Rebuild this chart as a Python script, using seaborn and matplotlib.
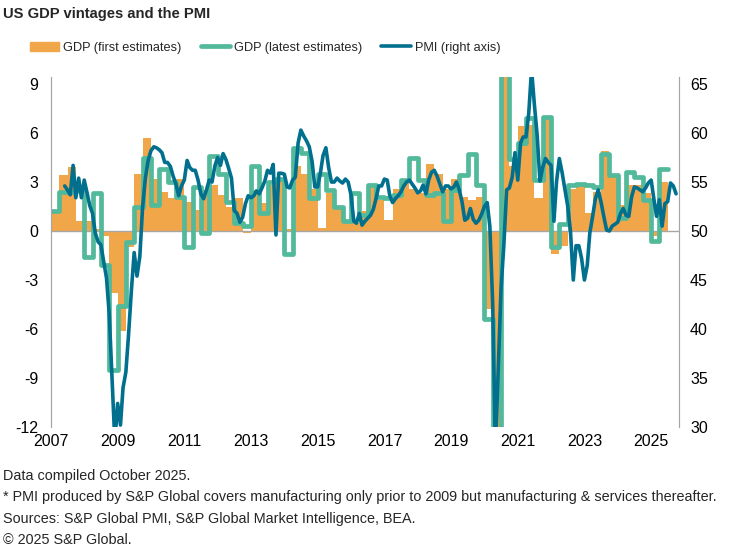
import numpy as np
import pandas as pd
import matplotlib
matplotlib.use("Agg")
import matplotlib.pyplot as plt
from matplotlib.patches import Patch
from matplotlib.lines import Line2D
import matplotlib.dates as mdates
import seaborn as sns

# Quarterly GDP, % q/q annualised, 2007Q1 - 2025Q2
quarters = pd.period_range("2007Q1", "2025Q2", freq="Q")
gdp_first = [1.3, 3.4, 3.9, 0.6,
             0.6, 0.1, -0.3, -3.8,
             -6.1, -1.0, 3.5, 5.7,
             3.2, 2.4, 2.0, 3.2,
             1.8, 1.3, 2.5, 2.8,
             2.2, 1.5, 2.0, -0.1,
             2.5, 1.7, 2.8, 3.2,
             0.1, 4.0, 3.5, 2.6,
             0.2, 2.3, 1.5, 0.7,
             0.5, 1.2, 2.9, 1.9,
             0.7, 2.6, 3.0, 2.6,
             2.3, 4.1, 3.5, 2.6,
             3.2, 2.1, 1.9, 2.1,
             -4.8, -32.9, 33.1, 4.0,
             6.4, 6.5, 2.0, 6.9,
             -1.4, -0.9, 2.6, 2.9,
             1.1, 2.4, 4.9, 3.3,
             1.6, 2.8, 2.8, 2.3,
             -0.3, 3.0]
gdp_latest = [1.2, 2.4, 2.4, 2.5,
              -1.6, 2.3, -2.1, -8.5,
              -4.6, -0.7, 1.5, 4.5,
              1.6, 3.8, 3.0, 2.1,
              -1.0, 2.7, -0.1, 4.6,
              3.5, 1.8, 0.5, 0.3,
              4.0, 1.1, 3.0, 3.2,
              -1.4, 5.1, 4.8, 2.0,
              3.5, 2.5, 1.5, 0.6,
              2.3, 1.0, 2.8, 2.1,
              2.0, 2.2, 3.1, 4.5,
              3.1, 2.2, 2.3, 0.6,
              2.5, 3.4, 4.7, 2.8,
              -5.4, -28.0, 34.8, 4.4,
              5.4, 6.9, 3.1, 7.0,
              -1.0, 0.4, 2.8, 2.9,
              2.8, 2.7, 4.7, 3.4,
              0.8, 3.6, 3.3, 1.9,
              -0.6, 3.8]

# Monthly PMI, May 2007 - Sep 2025
pmi_start = "2007-05"
pmi = [54.6, 54.2, 53.7, 56.7, 53.4, 55.4, 53.4, 55.2,
       53.9, 52.6, 51.8, 49.8, 48.9, 48.6, 46.9, 45.2, 41.5, 35.0, 28.5, 32.4,
       30.2, 34.0, 35.6, 39.5, 44.0, 47.8, 45.4, 47.4, 52.4, 55.4, 57.2, 58.2,
       58.6, 58.5, 58.3, 58.0, 57.0, 57.0, 56.6, 55.6, 54.8, 53.6, 54.6, 55.2,
       57.2, 56.5, 56.2, 56.2, 55.2, 53.8, 53.3, 54.2, 55.2, 55.0, 56.6, 57.5,
       56.7, 57.9, 57.3, 56.4, 55.4, 52.1, 51.8, 50.9, 51.4, 52.8, 53.6, 53.4,
       53.6, 54.1, 53.8, 54.4, 55.1, 56.2, 55.9, 56.8, 49.6, 55.9, 55.9, 55.8,
       54.5, 54.4, 55.2, 55.5, 59.0, 60.3, 59.7, 59.2, 58.6, 57.1, 54.5, 54.5,
       56.0, 57.7, 58.5, 56.5, 55.0, 55.0, 55.4, 55.1, 54.9, 55.3, 55.0, 53.7,
       51.0, 50.8, 51.8, 50.6, 51.0, 51.3, 51.6, 52.2, 53.3, 54.6, 54.6, 55.3,
       55.2, 53.6, 52.9, 53.3, 53.6, 54.0, 54.6, 55.0, 55.2, 54.8, 54.4, 53.9,
       54.1, 54.7, 53.8, 55.2, 56.0, 56.2, 55.6, 54.8, 54.0, 54.6, 54.6, 54.3,
       54.5, 55.0, 54.2, 53.0, 51.1, 51.3, 52.3, 51.2, 50.8, 51.1, 51.7, 52.5,
       52.9, 50.5, 42.6, 27.5, 36.0, 44.0, 48.5, 54.2, 54.4, 55.5, 58.0, 55.2,
       59.0, 59.6, 59.6, 62.0, 66.5, 63.0, 59.8, 55.1, 56.5, 57.4, 57.0, 56.7,
       51.0, 55.0, 57.4, 56.0, 54.3, 52.6, 50.0, 45.0, 48.5, 48.5, 47.2, 45.0,
       46.5, 49.8, 51.5, 53.3, 54.2, 53.0, 51.5, 50.1, 50.0, 50.5, 50.7, 50.9,
       51.8, 52.3, 51.6, 51.5, 53.5, 54.5, 54.4, 54.2, 54.0, 54.4, 54.9, 55.2,
       53.2, 51.5, 53.2, 50.5, 52.8, 53.0, 54.9, 54.6, 53.8]

year_ticks = list(range(2007, 2026, 2))

ORANGE = "#F2A64A"
GREEN = "#52B99B"
BLUE = "#00708E"
GREY = "#A6A6A6"

sns.set_style("white")
plt.rcParams["font.family"] = ["Liberation Sans", "DejaVu Sans"]
plt.rcParams["axes.unicode_minus"] = False

# quarter spans for bars / step line
q_start = quarters.start_time
q_end = (quarters + 1).start_time
widths = (q_end - q_start).days

step_x = list(q_start) + [q_end[-1]]
step_y = gdp_latest + [gdp_latest[-1]]

pmi_dates = pd.date_range(pmi_start, periods=len(pmi), freq="MS") + pd.offsets.MonthEnd(0)

fig = plt.figure(figsize=(7.4, 5.5), dpi=100)
ax = fig.add_axes([51 / 740, 123 / 550, 628 / 740, 350 / 550])

ax.bar(q_start, gdp_first, width=widths, align="edge", color=ORANGE, linewidth=0, zorder=1)
ax.axhline(0, color=GREY, lw=1, zorder=1.5)
sns.lineplot(x=step_x, y=step_y, ax=ax, color=GREEN, lw=3.4, drawstyle="steps-post", zorder=2)

ax2 = ax.twinx()
sns.lineplot(x=pmi_dates, y=pmi, ax=ax2, color=BLUE, lw=2.6)

ax.set_xlim(pd.Timestamp("2007-01-01"), pd.Timestamp("2025-11-01"))
ax.set_ylim(-12, 9.43)
ax2.set_ylim(30, 65.72)
ax.set_yticks(range(-12, 10, 3))
ax2.set_yticks(range(30, 66, 5))
ax.set_xticks([pd.Timestamp(f"{y}-01-01") for y in year_ticks])
ax.xaxis.set_major_formatter(mdates.DateFormatter("%Y"))

for a in (ax, ax2):
    a.set_xlabel("")
    a.set_ylabel("")
    for s in ("top", "bottom"):
        a.spines[s].set_visible(False)
    a.spines["left"].set_color(GREY)
    a.spines["right"].set_color(GREY)
    a.tick_params(length=0, labelsize=11.5, colors="black")
ax.tick_params(axis="y", pad=9)
ax.tick_params(axis="x", pad=5)
ax2.tick_params(axis="y", pad=8)

handles = [Patch(color=ORANGE, label="GDP (first estimates)"),
           Line2D([], [], color=GREEN, lw=3.4, label="GDP (latest estimates)"),
           Line2D([], [], color=BLUE, lw=2.6, label="PMI (right axis)")]
fig.legend(handles=handles, loc="center left", bbox_to_anchor=(30 / 740, 1 - 48 / 550),
           ncol=3, frameon=False, fontsize=9.2,
           handlelength=2.3, handleheight=0.75, handletextpad=0.3,
           columnspacing=1.5, borderpad=0, borderaxespad=0)

fig.text(3 / 740, 1 - 14 / 550, "US GDP vintages and the PMI", fontsize=10.6,
         fontweight="bold", va="center", ha="left")

notes = ["Data compiled October 2025.",
         "* PMI produced by S&P Global covers manufacturing only prior to 2009 but manufacturing & services thereafter.",
         "Sources: S&P Global PMI, S&P Global Market Intelligence, BEA.",
         "\u00a9 2025 S&P Global."]
for i, line in enumerate(notes):
    fig.text(3 / 740, 1 - (476 + 21.5 * i) / 550, line, fontsize=10.4, va="center", ha="left")

fig.savefig("out.png", dpi=100)
